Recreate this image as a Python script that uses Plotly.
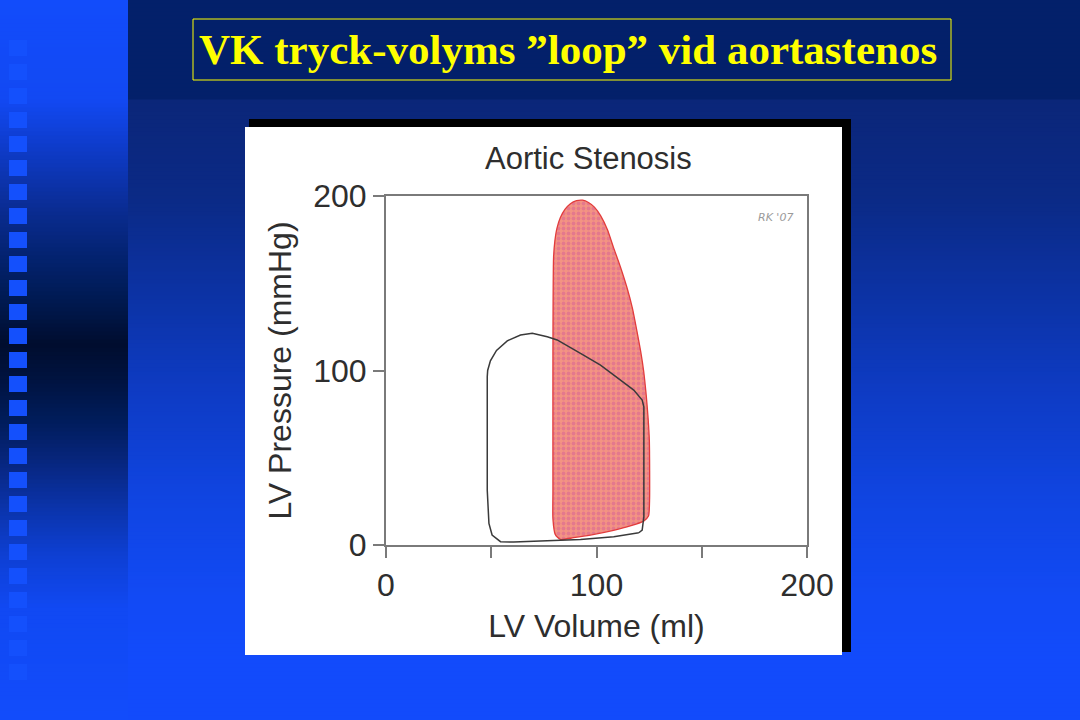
import plotly.graph_objects as go

# ---------------- data ----------------
# Normal LV pressure-volume loop (black outline)
normal_volume = [120.1, 121.7, 122.5, 122.5, 121.7, 117.7, 111.4, 101.9, 92.4, 81.3, 76.6,
                 69.5, 63.9, 57.6, 52.5, 49.6, 48.3, 48.1, 48.1, 48.9, 50.4, 54.4, 60.7,
                 76.6, 92.4, 108.2, 120.1]
normal_pressure = [7.0, 8.6, 16.2, 79.2, 83.1, 88.8, 94.5, 103.1, 109.8, 117.5, 119.3,
                   121.3, 120.3, 117.0, 111.5, 105.5, 100.0, 96.4, 31.4, 12.4, 5.7, 1.9, 1.7,
                   2.3, 3.2, 4.7, 7.0]

# Aortic stenosis loop (red, stippled)
as_volume = [80.4, 79.3, 79.3, 79.3, 79.6, 80.2, 81.2, 82.8, 85.0, 87.6, 90.5, 93.4,
             96.2, 99.0, 102.0, 105.2, 108.1, 111.4, 114.5, 117.1, 119.2, 121.0, 122.4,
             123.6, 124.5, 125.1, 125.2, 124.7, 122.4, 116.0, 108.1, 97.1, 89.1, 82.8, 80.4]
as_pressure = [6.1, 15.0, 31.0, 107.0, 164.6, 174.0, 181.5, 187.5, 192.3, 195.6, 197.3,
               197.6, 196.3, 193.6, 188.6, 180.6, 170.4, 159.2, 147.4, 135.5, 122.6, 110.8,
               99.7, 86.0, 72.9, 60.0, 25.2, 16.6, 13.7, 10.9, 8.4, 5.7, 4.2, 3.2, 6.1]

x_ticks = [0, 50, 100, 150, 200]
x_tick_labels = ["0", "", "100", "", "200"]
y_ticks = [0, 100, 200]
y_tick_labels = ["0", "100", "200"]

slide_title = "VK tryck-volyms \u201dloop\u201d vid aortastenos"
chart_title = "Aortic Stenosis"
x_title = "LV Volume (ml)"
y_title = "LV Pressure (mmHg)"
signature = "RK '07"

# ---------------- layout geometry (pixels) ----------------
W, H = 1080, 720
PL, PR, PT, PB = 386, 807, 196, 545  # plot area


def px(xp):
    return (xp - PL) / (PR - PL)


def py(yp):
    return (PB - yp) / (PB - PT)


def hex2rgb(h):
    h = h.lstrip('#')
    return tuple(int(h[i:i + 2], 16) for i in (0, 2, 4))


def grad(stops, y):
    for (y0, c0), (y1, c1) in zip(stops, stops[1:]):
        if y0 <= y <= y1:
            t = 0 if y1 == y0 else (y - y0) / (y1 - y0)
            a, b = hex2rgb(c0), hex2rgb(c1)
            return 'rgb(%d,%d,%d)' % tuple(round(a[i] + (b[i] - a[i]) * t) for i in range(3))
    return stops[-1][1]


main_stops = [(0, '#03206a'), (98, '#03206a'), (99, '#0b2679'), (200, '#0b2a86'),
              (300, '#0c33a6'), (400, '#0e3cc6'), (500, '#1045e2'), (600, '#124af5'),
              (660, '#124bfb'), (720, '#124bfb')]
left_stops = [(0, '#124cfb'), (100, '#1249f3'), (150, '#0e3bc8'), (210, '#0a2c92'),
              (260, '#03226e'), (300, '#001a52'), (345, '#000d2e'), (380, '#001340'),
              (420, '#001c5a'), (460, '#07257c'), (510, '#0b34ac'), (560, '#0e40d6'),
              (610, '#1149f3'), (720, '#124cfb')]

shapes = []
band = 4
for y in range(0, H, band):
    mid = y + band / 2
    shapes.append(dict(type='rect', xref='paper', yref='paper', layer='below',
                       x0=px(128), x1=px(W + 2), y0=py(y - 0.6), y1=py(y + band + 0.6),
                       fillcolor=grad(main_stops, mid), line=dict(width=0)))
    shapes.append(dict(type='rect', xref='paper', yref='paper', layer='below',
                       x0=px(-2), x1=px(128), y0=py(y - 0.6), y1=py(y + band + 0.6),
                       fillcolor=grad(left_stops, mid), line=dict(width=0)))

# squares in the left strip
for k in range(27):
    top = 40 + 24 * k
    shapes.append(dict(type='rect', xref='paper', yref='paper', layer='below',
                       x0=px(9), x1=px(27), y0=py(top), y1=py(top + 16),
                       fillcolor='#1450fc', line=dict(width=0)))

# title box
shapes.append(dict(type='rect', xref='paper', yref='paper', layer='below',
                   x0=px(193), x1=px(951), y0=py(19), y1=py(80),
                   fillcolor='rgba(0,0,0,0)', line=dict(color='#ffff00', width=1)))

# chart "picture" with black shadow
shapes.append(dict(type='rect', xref='paper', yref='paper', layer='below',
                   x0=px(249), x1=px(851), y0=py(119), y1=py(652),
                   fillcolor='#000000', line=dict(width=0)))
shapes.append(dict(type='rect', xref='paper', yref='paper', layer='below',
                   x0=px(245), x1=px(842), y0=py(127), y1=py(655),
                   fillcolor='#ffffff', line=dict(width=0)))

fig = go.Figure()
fig.add_trace(go.Scatter(
    x=as_volume, y=as_pressure, mode='lines', fill='toself',
    fillcolor='#ee8484',
    fillpattern=dict(shape='.', bgcolor='#f39482', fgcolor='#d65e98', size=5, solidity=0.45),
    line=dict(color='#e23c3c', width=1.3, shape='spline', smoothing=0.6),
    hoverinfo='skip', showlegend=False))
fig.add_trace(go.Scatter(
    x=normal_volume, y=normal_pressure, mode='lines',
    line=dict(color='#3a3a3a', width=1.5), hoverinfo='skip', showlegend=False))

axis_font = dict(family='Liberation Sans, Arial, sans-serif', size=32, color='#2e2e2e')

fig.update_layout(
    width=W, height=H, autosize=False,
    margin=dict(l=PL, r=W - PR, t=PT, b=H - PB, pad=0),
    paper_bgcolor='#124bfb', plot_bgcolor='rgba(0,0,0,0)',
    shapes=shapes,
    showlegend=False,
    xaxis=dict(range=[0, 200], tickmode='array', tickvals=x_ticks, ticktext=x_tick_labels,
               ticks='outside', ticklen=11, tickwidth=2, tickcolor='#7a7a7a',
               showline=True, linecolor='#7a7a7a', linewidth=2, mirror=True,
               showgrid=False, zeroline=False, tickfont=axis_font, ticklabelstandoff=0,
               title=dict(text=x_title, font=axis_font, standoff=12)),
    yaxis=dict(range=[0, 200], tickmode='array', tickvals=y_ticks, ticktext=y_tick_labels,
               ticks='outside', ticklen=11, tickwidth=2, tickcolor='#7a7a7a',
               showline=True, linecolor='#7a7a7a', linewidth=2, mirror=True,
               showgrid=False, zeroline=False, tickfont=axis_font, ticklabelstandoff=0,
               title=dict(text=y_title, font=axis_font, standoff=12)),
    annotations=[
        dict(text='<b>' + slide_title + '</b>', xref='paper', yref='paper',
             x=px(568), y=py(50), xanchor='center', yanchor='middle', showarrow=False,
             font=dict(family='Liberation Serif, Times New Roman, serif', size=43,
                       color='#ffff00')),
        dict(text=chart_title, xref='paper', yref='paper',
             x=px(588), y=py(158), xanchor='center', yanchor='middle', showarrow=False,
             font=dict(family='Liberation Sans, Arial, sans-serif', size=31, color='#2e2e2e')),
        dict(text='<i>' + signature + '</i>', xref='paper', yref='paper',
             x=px(775), y=py(217), xanchor='center', yanchor='middle', showarrow=False,
             font=dict(family='DejaVu Sans, sans-serif', size=11, color='#9a9a9a')),
    ],
)

fig.write_html("out.html", config={'displayModeBar': False},
               post_script="document.body.style.margin='0';document.body.style.overflow='hidden';")
